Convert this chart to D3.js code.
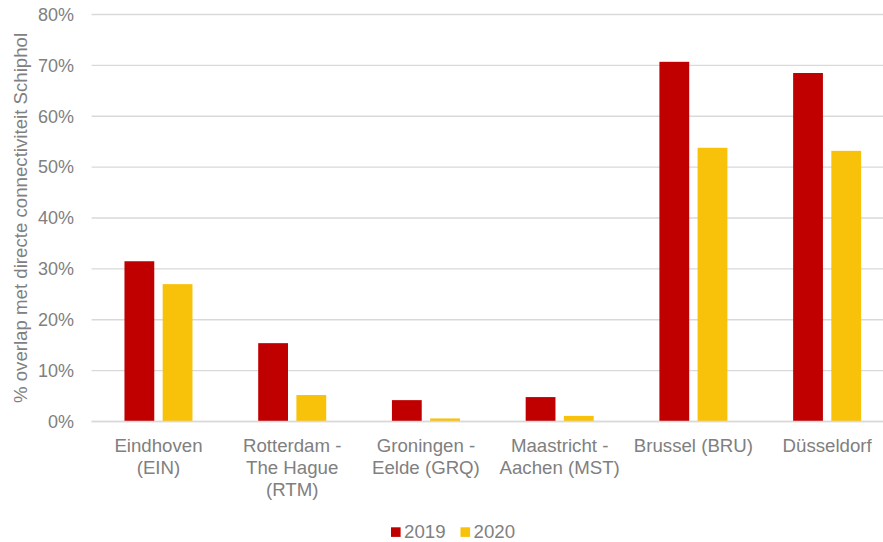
<!DOCTYPE html>
<html>
<head>
<meta charset="utf-8">
<script src="https://cdn.jsdelivr.net/npm/d3@7"></script>
<style>
  html, body { margin: 0; padding: 0; background: #ffffff; }
  svg { display: block; }
  text { font-family: "Liberation Sans", Arial, sans-serif; fill: #808080; }
</style>
</head>
<body>
<div id="chart"></div>
<script>
const categories = [
  "Eindhoven\n(EIN)",
  "Rotterdam -\nThe Hague\n(RTM)",
  "Groningen -\nEelde (GRQ)",
  "Maastricht -\nAachen (MST)",
  "Brussel (BRU)",
  "Düsseldorf"
];
const seriesNames = ["2019", "2020"];
const values2019 = [31.5, 15.4, 4.2, 4.8, 70.7, 68.5];
const values2020 = [27.0, 5.2, 0.6, 1.1, 53.8, 53.2];
const yTicks = [0, 10, 20, 30, 40, 50, 60, 70, 80];
const yTitle = "% overlap met directe connectiviteit Schiphol";
const colors = ["#C00000", "#F8C10A"];

const W = 883, H = 542;
const plot = { left: 91.6, right: 894, top: 14.5, bottom: 421.5 };
const FS = "18.67px";

const svg = d3.select("#chart").append("svg")
  .attr("width", W).attr("height", H);

const x0 = d3.scaleBand().domain(categories).range([plot.left, plot.right]).padding(0);
const groupW = 68;
const x1 = d3.scaleBand().domain(seriesNames)
  .range([(x0.bandwidth() - groupW) / 2, (x0.bandwidth() + groupW) / 2])
  .paddingInner(0.22).paddingOuter(0);
const y = d3.scaleLinear().domain([0, 80]).range([plot.bottom, plot.top]);

// gridlines
svg.append("g").selectAll("line").data(yTicks).join("line")
  .attr("x1", plot.left).attr("x2", plot.right)
  .attr("y1", d => y(d)).attr("y2", d => y(d))
  .attr("stroke", "#d9d9d9").attr("stroke-width", 1.3);

// y axis labels
const yAxis = d3.axisLeft(y).tickValues(yTicks).tickFormat(d => d + "%").tickSize(0).tickPadding(0);
const gy = svg.append("g").attr("transform", `translate(74,0)`).call(yAxis);
gy.select(".domain").remove();
gy.selectAll("text").attr("font-size", "18px").attr("fill", "#808080")
  .style("font-family", "'Liberation Sans', Arial, sans-serif");

// bars
const data = categories.map((c, i) => ({ cat: c, vals: [
  { s: "2019", v: values2019[i] }, { s: "2020", v: values2020[i] }
]}));
const groups = svg.append("g").selectAll("g").data(data).join("g")
  .attr("transform", d => `translate(${x0(d.cat)},0)`);
groups.selectAll("rect").data(d => d.vals).join("rect")
  .attr("x", d => x1(d.s))
  .attr("width", x1.bandwidth())
  .attr("y", d => y(d.v))
  .attr("height", d => y(0) - y(d.v))
  .attr("fill", (d, i) => colors[i]);

// baseline
svg.append("line").attr("x1", plot.left).attr("x2", plot.right)
  .attr("y1", y(0)).attr("y2", y(0)).attr("stroke", "#d9d9d9").attr("stroke-width", 1.3);

// category labels
const catG = svg.append("g");
categories.forEach(c => {
  const cx = x0(c) + x0.bandwidth() / 2;
  const t = catG.append("text")
    .attr("text-anchor", "middle")
    .attr("font-size", FS)
    .attr("x", cx)
    .attr("y", 452);
  c.split("\n").forEach((line, j) => {
    t.append("tspan").attr("x", cx).attr("dy", j === 0 ? 0 : 22).text(line);
  });
});

// y title
svg.append("text")
  .attr("transform", `translate(20,${(plot.top + plot.bottom) / 2}) rotate(-90)`)
  .attr("text-anchor", "middle")
  .attr("dominant-baseline", "central")
  .attr("font-size", FS)
  .text(yTitle);

// legend
const legend = svg.append("g");
const legendX = [391, 460.5];
seriesNames.forEach((s, i) => {
  legend.append("rect").attr("x", legendX[i]).attr("y", 527.3).attr("width", 9.6).attr("height", 9.6)
    .attr("fill", colors[i]);
  legend.append("text").attr("x", legendX[i] + 13).attr("y", 537.5)
    .attr("font-size", FS).text(s);
});
</script>
</body>
</html>
